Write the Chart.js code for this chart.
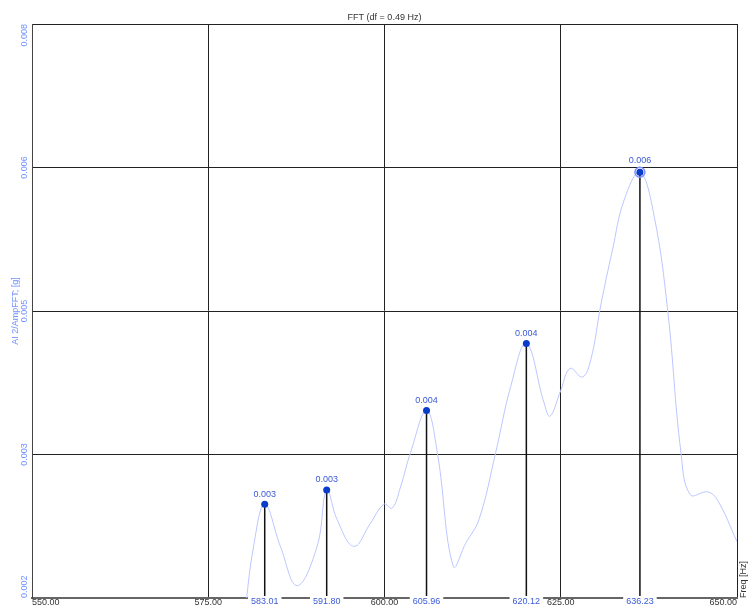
<!DOCTYPE html>
<html>
<head>
<meta charset="utf-8">
<script src="https://cdn.jsdelivr.net/npm/chart.js@4/dist/chart.umd.min.js"></script>
<style>
  body { margin: 0; background: #fff; }
  canvas { display: block; }
</style>
</head>
<body>
<canvas id="fft" width="750" height="607"></canvas>
<script>
// spectrum
var freq = [580.2, 581.43, 583.01, 585.23, 587.6, 590.44, 591.8, 593.28, 595.64, 598.0,
            599.9, 601.09, 602.27, 603.69, 605.96, 607.49, 609.76, 611.5, 613.4, 615.77,
            617.9, 620.12, 622.63, 623.48, 625.0, 626.32, 628.08, 629.26, 630.68, 632.34,
            633.99, 636.23, 638.25, 640.16, 642.05, 643.37, 645.84, 647.26, 650.0];
var amp = [0.00185, 0.00254, 0.00298, 0.00254, 0.00213, 0.00254, 0.00313, 0.00282, 0.00254, 0.00278,
           0.00298, 0.00294, 0.00316, 0.00352, 0.00396, 0.00352, 0.00233, 0.00257, 0.00282, 0.00352,
           0.00421, 0.00466, 0.00404, 0.00390, 0.00417, 0.00440, 0.00431, 0.00449, 0.00506, 0.00564,
           0.00616, 0.00645, 0.00599, 0.00501, 0.00352, 0.00308, 0.00311, 0.00302, 0.00259];

// marked peaks
var peakFreq = [583.01, 591.80, 605.96, 620.12, 636.23];
var peakAmp = [0.00298, 0.00313, 0.00396, 0.00466, 0.00645];
var peakText = ["0.003", "0.003", "0.004", "0.004", "0.006"];
var peakFreqText = ["583.01", "591.80", "605.96", "620.12", "636.23"];

// axes
var xTicks = [550, 575, 600, 625, 650];
var xTickText = ["550.00", "575.00", "600.00", "625.00", "650.00"];
var yTicks = [0.002, 0.0035, 0.005, 0.0065, 0.008];
var yTickText = ["0.002", "0.003", "0.005", "0.006", "0.008"];

var FONT = "9px 'Liberation Sans', Arial, sans-serif";

var spectrum = freq.map(function (f, i) { return { x: f, y: amp[i] }; });
var peaks = peakFreq.map(function (f, i) { return { x: f, y: peakAmp[i] }; });
var stems = [];
peakFreq.forEach(function (f, i) {
    stems.push({ x: f, y: yTicks[0] });
    stems.push({ x: f, y: peakAmp[i] });
    stems.push({ x: f, y: null });
});
var maxIdx = peakAmp.indexOf(Math.max.apply(null, peakAmp));

var textPlugin = {
    id: 'fftText',
    afterDraw: function (chart) {
        var ctx = chart.ctx, a = chart.chartArea;
        var xs = chart.scales.x, ys = chart.scales.y;
        ctx.save();
        ctx.font = FONT;

        // title
        ctx.fillStyle = '#333';
        ctx.textAlign = 'center';
        ctx.textBaseline = 'middle';
        ctx.fillText("FFT (df = 0.49 Hz)", (a.left + a.right) / 2, 18);

        // x tick labels
        ctx.fillStyle = '#333';
        xTicks.forEach(function (v, i) {
            var px = xs.getPixelForValue(v);
            ctx.textAlign = i === 0 ? 'left' : (i === xTicks.length - 1 ? 'right' : 'center');
            ctx.fillText(xTickText[i], px, 603);
        });

        // peak frequency labels with white box
        ctx.textAlign = 'center';
        peakFreq.forEach(function (f, i) {
            var px = xs.getPixelForValue(f);
            var w = ctx.measureText(peakFreqText[i]).width + 6;
            ctx.fillStyle = '#fff';
            ctx.fillRect(px - w / 2, a.bottom - 2, w, 12);
            ctx.fillStyle = '#3a5ad8';
            ctx.fillText(peakFreqText[i], px, 602);
        });

        // peak value labels
        var meta = chart.getDatasetMeta(2);
        meta.data.forEach(function (pt, i) {
            var ty = pt.y - (i === maxIdx ? 12 : 10);
            if (i === maxIdx) {
                var w = ctx.measureText(peakText[i]).width + 4;
                ctx.fillStyle = '#fff';
                ctx.fillRect(pt.x - w / 2, ty - 5, w, 10);
            }
            ctx.fillStyle = '#3a5ad8';
            ctx.fillText(peakText[i], pt.x, ty);
        });

        // y tick labels, rotated
        ctx.fillStyle = '#7090ff';
        yTicks.forEach(function (v, i) {
            var py = ys.getPixelForValue(v);
            ctx.save();
            ctx.translate(25, py);
            ctx.rotate(-Math.PI / 2);
            ctx.textAlign = i === 0 ? 'left' : (i === yTicks.length - 1 ? 'right' : 'center');
            ctx.fillText(yTickText[i], 0, 0);
            ctx.restore();
        });

        // axis titles
        ctx.save();
        ctx.translate(16, (a.top + a.bottom) / 2);
        ctx.rotate(-Math.PI / 2);
        ctx.textAlign = 'center';
        ctx.fillStyle = '#7090ff';
        ctx.fillText("AI 2/AmpFFT; [g]", 0, 0);
        ctx.restore();

        ctx.save();
        ctx.translate(744, a.bottom);
        ctx.rotate(-Math.PI / 2);
        ctx.textAlign = 'left';
        ctx.fillStyle = '#333';
        ctx.fillText("Freq [Hz]", 0, 0);
        ctx.restore();

        ctx.restore();
    }
};

var fftChart = new Chart(document.getElementById("fft"), {
    type: 'line',
    data: {
        datasets: [{
            label: 'AmpFFT',
            data: spectrum,
            borderColor: '#bcc6ff',
            borderWidth: 1,
            pointRadius: 0,
            tension: 0.4,
            fill: false,
            order: 3
        }, {
            label: 'stems',
            data: stems,
            borderColor: '#111',
            borderWidth: 1.5,
            pointRadius: 0,
            spanGaps: false,
            tension: 0,
            order: 2
        }, {
            label: 'peaks',
            data: peaks,
            showLine: false,
            pointRadius: 3.5,
            pointBackgroundColor: '#0a3ccc',
            pointBorderColor: '#0a3ccc',
            pointBorderWidth: 0,
            order: 0
        }, {
            label: 'max',
            data: [peaks[maxIdx]],
            showLine: false,
            pointRadius: 5,
            pointBackgroundColor: 'rgba(0,0,0,0)',
            pointBorderColor: '#7d8fff',
            pointBorderWidth: 1.5,
            order: 1
        }]
    },
    options: {
        responsive: false,
        animation: false,
        layout: { padding: { left: 32, top: 24, right: 13, bottom: 9 } },
        plugins: {
            legend: { display: false },
            tooltip: { enabled: false }
        },
        scales: {
            x: {
                type: 'linear',
                min: 550,
                max: 650,
                afterBuildTicks: function (s) { s.ticks = xTicks.map(function (v) { return { value: v }; }); },
                ticks: { display: false },
                grid: { color: '#222', drawTicks: false, lineWidth: 1 },
                border: { color: '#666', width: 2 }
            },
            y: {
                type: 'linear',
                min: 0.002,
                max: 0.008,
                afterBuildTicks: function (s) { s.ticks = yTicks.map(function (v) { return { value: v }; }); },
                ticks: { display: false },
                grid: { color: '#222', drawTicks: false, lineWidth: 1 },
                border: { color: '#444', width: 1 }
            }
        }
    },
    plugins: [textPlugin]
});
</script>
</body>
</html>
